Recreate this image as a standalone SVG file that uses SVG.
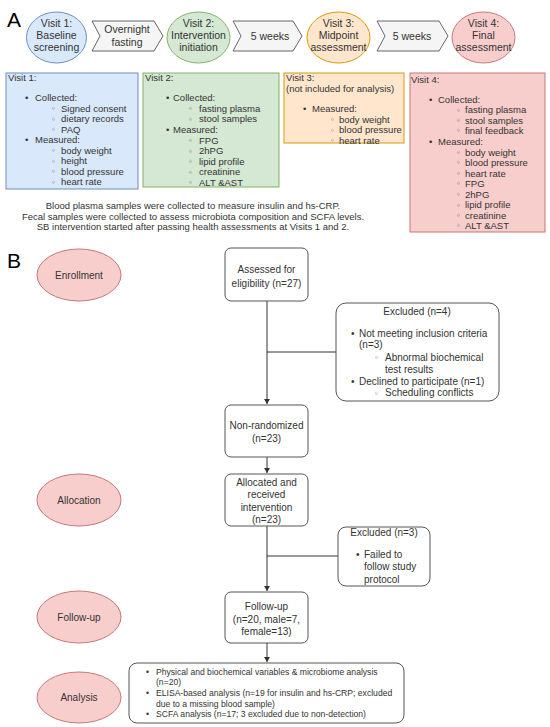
<svg xmlns="http://www.w3.org/2000/svg" width="550" height="727" viewBox="0 0 550 727">
<style>
text{font-family:"Liberation Sans",Arial,sans-serif;fill:#333;}
.lbl{font-size:21px;fill:#000;}
.c{font-size:10.5px;text-anchor:middle;}
.t{font-size:9.5px;}
.m{text-anchor:middle;}
.b{font-size:10px;}
.s{font-size:8.6px;}
.o{font-family:"DejaVu Sans",sans-serif;font-size:8px;}
.blue{fill:#dae8fc;stroke:#6c8ebf;}
.green{fill:#d5e8d4;stroke:#82b366;}
.orange{fill:#ffe6cc;stroke:#d79b00;}
.red{fill:#f8cecc;stroke:#c97775;}
.chev{fill:#f5f5f5;stroke:#666;}
.box{fill:#fff;stroke:#555;}
.ln{stroke:#333;stroke-width:1;fill:none;}
</style>
<defs>
<marker id="ah" markerWidth="6" markerHeight="6" refX="5" refY="3" orient="auto" markerUnits="userSpaceOnUse">
<path d="M0,0 L5,3 L0,6 Z" fill="#333"/>
</marker>
</defs>
<rect width="550" height="727" fill="#fff"/>

<text class="lbl" x="7" y="27">A</text>
<text class="lbl" x="7" y="268">B</text>

<g id="visit1-circle"><ellipse class="blue" cx="56.5" cy="37.5" rx="30" ry="25.5"/>
<text class="c" x="56.5" y="27">Visit 1:</text><text class="c" x="56.5" y="39">Baseline</text><text class="c" x="56.5" y="51">screening</text></g>
<g id="arrow-fasting"><polygon class="chev" points="92,21 154,21 163,36 154,51 92,51 100,36"/>
<text class="c" x="127" y="33">Overnight</text><text class="c" x="127" y="46">fasting</text></g>
<g id="visit2-circle"><ellipse class="green" cx="198.5" cy="37.5" rx="31.5" ry="25.5"/>
<text class="c" x="198.5" y="27">Visit 2:</text><text class="c" x="198.5" y="39">Intervention</text><text class="c" x="198.5" y="51">initiation</text></g>
<g id="arrow-5w-1"><polygon class="chev" points="233,21 293,21 302,36 293,51 233,51 241,36"/>
<text class="c" x="270" y="40">5 weeks</text></g>
<g id="visit3-circle"><ellipse class="orange" cx="338.5" cy="37.5" rx="31.5" ry="25.5"/>
<text class="c" x="338.5" y="27">Visit 3:</text><text class="c" x="338.5" y="39">Midpoint</text><text class="c" x="338.5" y="51">assessment</text></g>
<g id="arrow-5w-2"><polygon class="chev" points="377,21 439,21 448,36 439,51 377,51 385,36"/>
<text class="c" x="412" y="40">5 weeks</text></g>
<g id="visit4-circle"><ellipse class="red" cx="483.5" cy="37.5" rx="31.5" ry="25.5"/>
<text class="c" x="483.5" y="27">Visit 4:</text><text class="c" x="483.5" y="39">Final</text><text class="c" x="483.5" y="51">assessment</text></g>

<g id="visit1-box" class="t"><rect class="blue" x="6" y="73" width="132" height="116"/>
<text x="8" y="81">Visit 1:</text>
<text x="25" y="101">•</text><text x="35" y="101">Collected:</text>
<text class="o" x="51" y="111">◦</text><text x="61" y="111.5">Signed consent</text>
<text class="o" x="51" y="121.5">◦</text><text x="61" y="122">dietary records</text>
<text class="o" x="51" y="132">◦</text><text x="61" y="132.5">PAQ</text>
<text x="25" y="143">•</text><text x="35" y="143">Measured:</text>
<text class="o" x="51" y="153">◦</text><text x="61" y="153.5">body weight</text>
<text class="o" x="51" y="163.5">◦</text><text x="61" y="164">height</text>
<text class="o" x="51" y="174">◦</text><text x="61" y="174.5">blood pressure</text>
<text class="o" x="51" y="184.5">◦</text><text x="61" y="185">heart rate</text></g>

<g id="visit2-box" class="t"><rect class="green" x="143" y="73" width="136" height="114"/>
<text x="145" y="81">Visit 2:</text>
<text x="166" y="101">•</text><text x="173" y="101">Collected:</text>
<text class="o" x="188" y="111">◦</text><text x="199" y="111.5">fasting plasma</text>
<text class="o" x="188" y="121.5">◦</text><text x="199" y="122">stool samples</text>
<text x="166" y="132.5">•</text><text x="173" y="132.5">Measured:</text>
<text class="o" x="188" y="143">◦</text><text x="199" y="143.5">FPG</text>
<text class="o" x="188" y="153.5">◦</text><text x="199" y="154">2hPG</text>
<text class="o" x="188" y="164">◦</text><text x="199" y="164.5">lipid profile</text>
<text class="o" x="188" y="174.5">◦</text><text x="199" y="175">creatinine</text>
<text class="o" x="188" y="185">◦</text><text x="199" y="185.5">ALT &amp;AST</text></g>

<g id="visit3-box" class="t"><rect class="orange" x="284" y="73" width="120" height="70"/>
<text x="286" y="80.5">Visit 3:</text>
<text x="286" y="91.5">(not included for analysis)</text>
<text x="303" y="111.5">•</text><text x="312" y="111.5">Measured:</text>
<text class="o" x="330" y="122">◦</text><text x="339" y="122.5">body weight</text>
<text class="o" x="330" y="132.5">◦</text><text x="339" y="133">blood pressure</text>
<text class="o" x="330" y="143">◦</text><text x="339" y="143.5">heart rate</text></g>

<g id="visit4-box" class="t"><rect class="red" x="410" y="73" width="135" height="159"/>
<text x="411" y="82.5">Visit 4:</text>
<text x="429" y="102.5">•</text><text x="438" y="102.5">Collected:</text>
<text class="o" x="456" y="112.5">◦</text><text x="465" y="113">fasting plasma</text>
<text class="o" x="456" y="123">◦</text><text x="465" y="123.5">stool samples</text>
<text class="o" x="456" y="133">◦</text><text x="465" y="133.5">final feedback</text>
<text x="429" y="144.5">•</text><text x="438" y="144.5">Measured:</text>
<text class="o" x="456" y="155">◦</text><text x="465" y="155.5">body weight</text>
<text class="o" x="456" y="165">◦</text><text x="465" y="165.5">blood pressure</text>
<text class="o" x="456" y="176">◦</text><text x="465" y="176.5">heart rate</text>
<text class="o" x="456" y="186">◦</text><text x="465" y="186.5">FPG</text>
<text class="o" x="456" y="197">◦</text><text x="465" y="197.5">2hPG</text>
<text class="o" x="456" y="207.5">◦</text><text x="465" y="208">lipid profile</text>
<text class="o" x="456" y="218">◦</text><text x="465" y="218.5">creatinine</text>
<text class="o" x="456" y="228">◦</text><text x="465" y="228.5">ALT &amp;AST</text></g>

<g id="caption" class="t m">
<text x="193" y="208.5">Blood plasma samples were collected to measure insulin and hs-CRP.</text>
<text x="193" y="219.5">Fecal samples were collected to assess microbiota composition and SCFA levels.</text>
<text x="193" y="229.5">SB intervention started after passing health assessments at Visits 1 and 2.</text>
</g>

<g id="connectors">
<line class="ln" x1="267" y1="301" x2="267" y2="404" marker-end="url(#ah)"/>
<line class="ln" x1="267" y1="352" x2="336" y2="352"/>
<line class="ln" x1="267" y1="457" x2="267" y2="473" marker-end="url(#ah)"/>
<line class="ln" x1="267" y1="526" x2="267" y2="591" marker-end="url(#ah)"/>
<line class="ln" x1="267" y1="556" x2="338" y2="556"/>
<line class="ln" x1="267" y1="643" x2="267" y2="662" marker-end="url(#ah)"/>
</g>

<g id="stage-enrollment" class="b"><ellipse class="red" cx="79" cy="275" rx="42" ry="26"/><text class="m" x="79" y="278.5">Enrollment</text></g>
<g id="stage-allocation" class="b"><ellipse class="red" cx="79" cy="500" rx="42" ry="26"/><text class="m" x="79" y="503.5">Allocation</text></g>
<g id="stage-followup" class="b"><ellipse class="red" cx="79" cy="617" rx="42" ry="26"/><text class="m" x="79" y="620.5">Follow-up</text></g>
<g id="stage-analysis" class="b"><ellipse class="red" cx="79" cy="697.5" rx="42" ry="25.5"/><text class="m" x="79" y="701">Analysis</text></g>

<g id="assessed" class="b"><rect class="box" x="225" y="248" width="83" height="53" rx="6"/>
<text class="m" x="266.5" y="272.5">Assessed for</text><text class="m" x="266.5" y="286.5">eligibility (n=27)</text></g>

<g id="excluded4" class="b"><rect class="box" x="336" y="303" width="163" height="98" rx="10"/>
<text class="m" x="417" y="314.5">Excluded (n=4)</text>
<text x="351" y="336.5">•</text><text x="359" y="336.5">Not meeting inclusion criteria</text>
<text x="359" y="348">(n=3)</text>
<text class="o" x="374" y="360">◦</text><text x="385" y="360.5">Abnormal biochemical</text>
<text x="385" y="372.5">test results</text>
<text x="351" y="384.5">•</text><text x="359" y="384.5">Declined to participate (n=1)</text>
<text class="o" x="374" y="395.5">◦</text><text x="385" y="396">Scheduling conflicts</text></g>

<g id="nonrandomized" class="b"><rect class="box" x="225" y="405" width="83" height="52" rx="6"/>
<text class="m" x="266.5" y="428.5">Non-randomized</text><text class="m" x="266.5" y="441.5">(n=23)</text></g>

<g id="allocated" class="b"><rect class="box" x="225" y="474" width="83" height="52" rx="6"/>
<text class="m" x="266.5" y="485.5">Allocated and</text><text class="m" x="266.5" y="498">received</text>
<text class="m" x="266.5" y="510.5">intervention</text><text class="m" x="266.5" y="522.5">(n=23)</text></g>

<g id="excluded3" class="b"><rect class="box" x="338" y="527" width="92" height="59" rx="8"/>
<text class="m" x="384" y="535.5">Excluded (n=3)</text>
<text x="356" y="557.5">•</text><text x="364" y="557.5">Failed to</text>
<text x="364" y="570">follow study</text>
<text x="364" y="582.5">protocol</text></g>

<g id="followup" class="b"><rect class="box" x="225" y="592" width="83" height="51" rx="6"/>
<text class="m" x="266.5" y="609.5">Follow-up</text><text class="m" x="266.5" y="622.5">(n=20, male=7,</text><text class="m" x="266.5" y="634.5">female=13)</text></g>

<g id="analysis" class="s"><rect class="box" x="129" y="663" width="275" height="60" rx="8"/>
<text x="146" y="675">•</text><text x="156" y="675">Physical and biochemical variables &amp; microbiome analysis</text>
<text x="156" y="684.5">(n=20)</text>
<text x="146" y="695.5">•</text><text x="156" y="695.5">ELISA-based analysis (n=19 for insulin and hs-CRP; excluded</text>
<text x="156" y="706.5">due to a missing blood sample)</text>
<text x="146" y="717">•</text><text x="156" y="717">SCFA analysis (n=17; 3 excluded due to non-detection)</text></g>
</svg>
